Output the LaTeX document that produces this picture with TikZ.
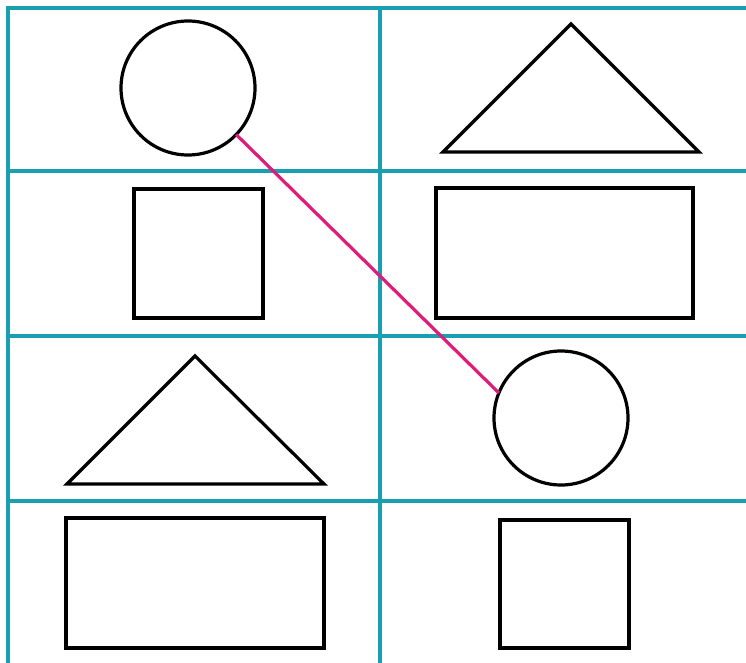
\documentclass[tikz,border=0pt]{standalone}
\usepackage{xcolor}
\usepackage{tikz}
\usetikzlibrary{arrows.meta,positioning,calc}

\definecolor{gridteal}{RGB}{24,160,178}
\definecolor{linkmag}{RGB}{222,28,122}

\begin{document}
\begin{tikzpicture}[
  x=1pt, y=-1pt,
  grid/.style={gridteal, line width=3.2pt},
  outline/.style={draw, line width=3.2pt, inner sep=0, outer sep=0},
  round/.style={outline, circle, minimum size=134pt},
  box/.style={outline, rectangle},
  link/.style={linkmag, line width=3.2pt},
]
\useasboundingbox (0,0) rectangle (746,663);

%% ── grid ─────────────────────────────────────────────
\draw[grid] (8,663) -- (8,8) -- (746,8);
\draw[grid] (380,8) -- (380,663);
\foreach \y in {171,336,501} { \draw[grid] (8,\y) -- (746,\y); }

%% ── left column ──────────────────────────────────────
\node[round] (circA) at (188,88) {};
\node[box, minimum width=129pt, minimum height=129pt] (sqA) at (198.5,253.5) {};
\draw[line width=3.2pt, line join=miter] (67,484) -- (195,356) -- (324,484) -- cycle;
\node[box, minimum width=258pt, minimum height=130pt] (rectA) at (195,583) {};

%% ── right column ─────────────────────────────────────
\draw[line width=3.2pt, line join=miter] (443,152) -- (571,24) -- (699,152) -- cycle;
\node[box, minimum width=257pt, minimum height=130pt] (rectB) at (564.5,253) {};
\node[round] (circB) at (561,418) {};
\node[box, minimum width=129pt, minimum height=128pt] (sqB) at (564.5,584) {};

%% match line
\draw[link] (circA.-44) -- (circB.158);

\end{tikzpicture}
\end{document}
